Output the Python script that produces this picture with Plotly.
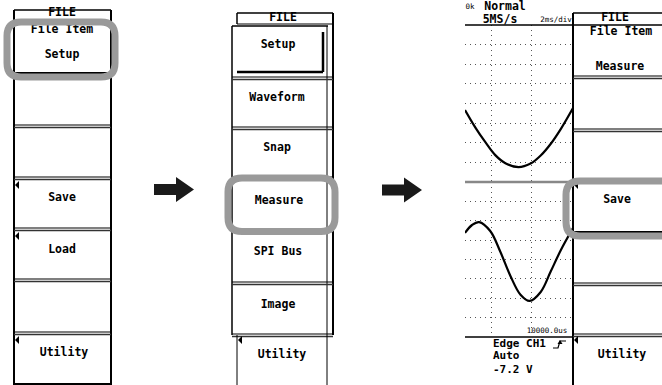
import plotly.graph_objects as go

# ---------------- data ----------------
# menu labels (centre aligned) and their positions in the figure (pixels)
menu_labels = ["FILE", "File Item", "Setup", "Save", "Load", "Utility",
               "FILE", "Setup", "Waveform", "Snap", "Measure", "SPI Bus", "Image", "Utility",
               "FILE", "File Item", "Measure", "Save", "Utility",
               "Normal", "5MS/s"]
menu_x = [62, 62, 62, 62, 62, 64,
          283, 278, 277, 277, 279, 278, 278, 282,
          615, 621, 620, 617, 622,
          505, 500]
menu_y = [13, 30, 55, 198, 250, 353,
          18, 45, 98, 148, 201, 252, 305, 355,
          18, 32, 67, 200, 355,
          7, 20]

small_labels = ["0k", "2ms/div", "10000.0us"]
small_x = [470, 556, 547]
small_y = [7, 20, 331]

trig_labels = ["Edge CH1", "Auto", "-7.2 V"]
trig_x = [493, 493, 493]
trig_y = [344, 356, 370]

# scope waveforms: time (ms) and amplitude (div)
upper_t = [0.0, 0.5, 1.0, 1.5, 2.0, 2.65, 3.25, 3.75, 4.25, 4.75, 5.35]
upper_v = [-0.33, -1.2, -1.96, -2.63, -3.04, -3.24, -3.06, -2.65, -2.05, -1.29, -0.23]
lower_t = [0.0, 0.35, 0.7, 1.25, 1.75, 2.25, 2.75, 3.2, 3.75, 4.25, 4.75, 5.35]
lower_v = [1.37, 1.78, 1.93, 1.47, 0.40, -0.85, -1.82, -2.14, -1.68, -0.61, 0.49, 1.62]

grid_t = [1.3, 3.3]
grid_v = [-3, -2, -1, 0, 1, 2, 3]

# ---------------- drawing ----------------
W, H = 662, 385
FONT = "DejaVu Sans Mono"
HL = "#9a9a9a"
shapes = []


def line(x0, y0, x1, y1, w=2, color="black"):
    shapes.append(dict(type="line", xref="x", yref="y", x0=x0, y0=y0, x1=x1, y1=y1,
                       line=dict(color=color, width=w), layer="above"))


def dline(x0, x1, y):
    line(x0, y - 1, x1, y - 1, 1.2)
    line(x0, y + 1.5, x1, y + 1.5, 1.5, "#333")


def path(d, fill="black", lw=0, lc="black"):
    shapes.append(dict(type="path", xref="x", yref="y", path=d, fillcolor=fill,
                       line=dict(color=lc, width=lw), layer="above"))


def tri(x, y):
    path(f"M{x},{y} L{x+4},{y-4} L{x+4},{y+4} Z")


def rrect(x0, y0, x1, y1, r):
    d = (f"M{x0+r},{y0} L{x1-r},{y0} Q{x1},{y0} {x1},{y0+r} L{x1},{y1-r} "
         f"Q{x1},{y1} {x1-r},{y1} L{x0+r},{y1} Q{x0},{y1} {x0},{y1-r} "
         f"L{x0},{y0+r} Q{x0},{y0} {x0+r},{y0} Z")
    shapes.append(dict(type="path", xref="x", yref="y", path=d,
                       fillcolor="rgba(0,0,0,0)", line=dict(color=HL, width=7),
                       layer="above"))


# panel 1
line(14, 10, 111, 10, 1.5)
line(14, 10, 14, 385, 2)
line(111, 10, 111, 385, 2)
line(14, 73, 111, 73, 2)
for yy in [126, 178, 229, 280, 333]:
    dline(14, 111, yy)
line(14, 384, 111, 384, 2)
tri(15, 185)
tri(15, 236)
tri(15, 340)

# panel 2
line(237, 13, 333, 13, 1.5)
line(237, 13, 237, 24, 1.5)
line(333, 13, 333, 335, 2)
line(237, 24, 333, 24, 1)
line(232, 26, 328, 26, 1.5)
line(232, 26, 232, 335, 1.5)
line(327, 26, 327, 335, 1)
line(323, 32, 323, 72, 2.5)
line(237, 72, 323, 72, 2.5)
for yy in [78, 128, 178, 230, 283, 335]:
    dline(232, 333, yy)
line(237, 335, 237, 385, 1)
line(327, 335, 327, 385, 1)
tri(238, 340)

# panel 3 menu
line(573, 13, 662, 13, 1.5)
line(573, 13, 573, 385, 2)
line(465, 25, 662, 25, 1.5)
for yy in [77, 130, 284, 335]:
    dline(573, 662, yy)
line(573, 232, 662, 232, 2)
tri(574, 185)
tri(574, 340)

# scope frame
line(465, 182, 573, 182, 2.5, "#888")
line(465, 337, 573, 337, 1.5)
# trigger slope symbol
path("M553,348 L558,348 L560,341 L566,341", fill="rgba(0,0,0,0)", lw=1.2)
path("M557.5,344 L560,340 L562.5,344 Z")

# arrows
path("M154,184 L176,184 L176,177 L194,189.5 L176,202 L176,195 L154,195 Z", fill="#1a1a1a")
path("M382,184.5 L404,184.5 L404,177.5 L422,190 L404,202.5 L404,195.5 L382,195.5 Z", fill="#1a1a1a")

# highlights
rrect(7, 22, 115, 77, 14)
rrect(228, 178, 335, 231.5, 14)
rrect(566, 181, 690, 236, 14)

fig = go.Figure()

fig.add_trace(go.Scatter(x=menu_x, y=menu_y, text=menu_labels, mode="text",
                         textposition="middle center", hoverinfo="skip",
                         textfont=dict(family=FONT, size=11.5, color="black", weight="bold"),
                         xaxis="x", yaxis="y"))
fig.add_trace(go.Scatter(x=small_x, y=small_y, text=small_labels, mode="text",
                         textposition="middle center", hoverinfo="skip",
                         textfont=dict(family=FONT, size=7.5, color="black"),
                         xaxis="x", yaxis="y"))
fig.add_trace(go.Scatter(x=trig_x, y=trig_y, text=trig_labels, mode="text",
                         textposition="middle right", hoverinfo="skip",
                         textfont=dict(family=FONT, size=11, color="black", weight="bold"),
                         xaxis="x", yaxis="y"))

fig.add_trace(go.Scatter(x=upper_t, y=upper_v, mode="lines", line=dict(color="black", width=2.2, shape="spline"),
                         hoverinfo="skip", xaxis="x2", yaxis="y2"))
fig.add_trace(go.Scatter(x=lower_t, y=lower_v, mode="lines", line=dict(color="black", width=2.2, shape="spline"),
                         hoverinfo="skip", xaxis="x2", yaxis="y3"))

hidden = dict(visible=False, showgrid=False, zeroline=False, fixedrange=True)
grid_common = dict(showgrid=True, gridcolor="#555", griddash="1px,4px", gridwidth=1,
                   zeroline=False, showticklabels=False, ticks="", showline=False, fixedrange=True)

fig.update_layout(
    width=W, height=H, margin=dict(l=0, r=0, t=0, b=0),
    paper_bgcolor="white", plot_bgcolor="rgba(0,0,0,0)", showlegend=False,
    xaxis=dict(range=[0, W], domain=[0, 1], **hidden),
    yaxis=dict(range=[H, 0], domain=[0, 1], **hidden),
    xaxis2=dict(range=[0, 5.35], domain=[465 / W, 573 / W], anchor="y2",
                tickvals=grid_t, **grid_common),
    yaxis2=dict(range=[-4, 4], domain=[1 - 182 / H, 1 - 25 / H], anchor="x2",
                tickvals=grid_v, **grid_common),
    yaxis3=dict(range=[-4, 4], domain=[1 - 337 / H, 1 - 182 / H], anchor="x2",
                tickvals=grid_v, **grid_common),
    shapes=shapes,
)

fig.write_html("out.html", config={"displayModeBar": False},
               post_script="document.body.style.margin='0';")
